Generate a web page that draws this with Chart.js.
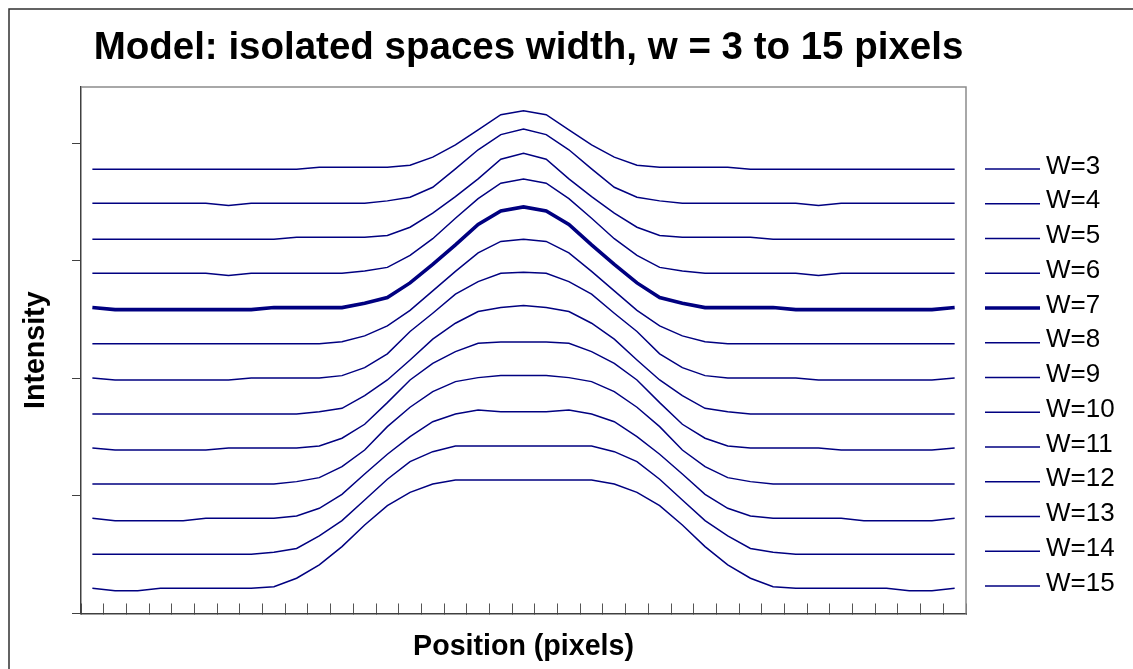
<!DOCTYPE html>
<html>
<head>
<meta charset="utf-8">
<script src="https://cdn.jsdelivr.net/npm/chart.js@4.4.0/dist/chart.umd.min.js"></script>
<style>
html,body{margin:0;padding:0;background:#fff;overflow:hidden;}
#wrap{width:1133px;height:669px;position:relative;}
canvas{display:block;}
</style>
</head>
<body>
<div id="wrap"><canvas id="c" width="1133" height="669"></canvas></div>
<script>
// ---- Data ----
const categories = ['1','2','3','4','5','6','7','8','9','10','11','12','13','14','15','16','17','18','19','20',
  '21','22','23','24','25','26','27','28','29','30','31','32','33','34','35','36','37','38','39'];

const seriesLabels = ['W=3','W=4','W=5','W=6','W=7','W=8','W=9','W=10','W=11','W=12','W=13','W=14','W=15'];

const w3 = [3.780,3.780,3.780,3.780,3.780,3.780,3.780,3.780,3.780,3.780,3.797,3.797,3.797,3.797,3.815,3.883,3.987,4.115,4.244,4.277,
  4.244,4.115,3.987,3.883,3.815,3.797,3.797,3.797,3.797,3.780,3.780,3.780,3.780,3.780,3.780,3.780,3.780,3.780,3.780];
const w4 = [3.491,3.491,3.491,3.491,3.491,3.491,3.471,3.491,3.491,3.491,3.491,3.491,3.491,3.511,3.542,3.627,3.783,3.946,4.075,4.122,
  4.075,3.946,3.783,3.627,3.542,3.511,3.491,3.491,3.491,3.491,3.491,3.491,3.471,3.491,3.491,3.491,3.491,3.491,3.491];
const w5 = [3.185,3.185,3.185,3.185,3.185,3.185,3.185,3.185,3.185,3.202,3.202,3.202,3.202,3.217,3.287,3.406,3.547,3.698,3.866,3.917,
  3.866,3.698,3.547,3.406,3.287,3.217,3.202,3.202,3.202,3.202,3.185,3.185,3.185,3.185,3.185,3.185,3.185,3.185,3.185];
const w6 = [2.895,2.895,2.895,2.895,2.895,2.895,2.875,2.895,2.895,2.895,2.895,2.895,2.915,2.945,3.047,3.189,3.363,3.530,3.661,3.696,
  3.661,3.530,3.363,3.189,3.047,2.945,2.915,2.895,2.895,2.895,2.895,2.895,2.875,2.895,2.895,2.895,2.895,2.895,2.895];
const w7 = [2.603,2.586,2.586,2.586,2.586,2.586,2.586,2.586,2.603,2.603,2.603,2.603,2.640,2.689,2.813,2.970,3.136,3.311,3.426,3.460,
  3.426,3.311,3.136,2.970,2.813,2.689,2.640,2.603,2.603,2.603,2.603,2.586,2.586,2.586,2.586,2.586,2.586,2.586,2.603];
const w8 = [2.296,2.296,2.296,2.296,2.296,2.296,2.296,2.296,2.296,2.296,2.296,2.313,2.362,2.447,2.579,2.745,2.911,3.068,3.166,3.185,
  3.166,3.068,2.911,2.745,2.579,2.447,2.362,2.313,2.296,2.296,2.296,2.296,2.296,2.296,2.296,2.296,2.296,2.296,2.296];
const w9 = [2.004,1.987,1.987,1.987,1.987,1.987,1.987,2.004,2.004,2.004,2.004,2.024,2.092,2.209,2.400,2.555,2.717,2.824,2.895,2.904,
  2.895,2.824,2.717,2.555,2.400,2.209,2.092,2.024,2.004,2.004,2.004,2.004,1.987,1.987,1.987,1.987,1.987,1.987,2.004];
const w10 = [1.698,1.698,1.698,1.698,1.698,1.698,1.698,1.698,1.698,1.698,1.717,1.746,1.854,1.987,2.157,2.334,2.470,2.569,2.604,2.620,
  2.604,2.569,2.470,2.334,2.157,1.987,1.854,1.746,1.717,1.698,1.698,1.698,1.698,1.698,1.698,1.698,1.698,1.698,1.698];
const w11 = [1.409,1.391,1.391,1.391,1.391,1.391,1.409,1.409,1.409,1.409,1.426,1.491,1.610,1.794,1.987,2.129,2.228,2.300,2.311,2.311,
  2.311,2.300,2.228,2.129,1.987,1.794,1.610,1.491,1.426,1.409,1.409,1.409,1.409,1.391,1.391,1.391,1.391,1.391,1.409];
const w12 = [1.102,1.102,1.102,1.102,1.102,1.102,1.102,1.102,1.102,1.122,1.156,1.249,1.391,1.590,1.755,1.888,1.973,2.007,2.024,2.024,
  2.024,2.007,1.973,1.888,1.755,1.590,1.391,1.249,1.156,1.122,1.102,1.102,1.102,1.102,1.102,1.102,1.102,1.102,1.102];
const w13 = [0.810,0.790,0.790,0.790,0.790,0.810,0.810,0.810,0.810,0.830,0.895,1.014,1.187,1.355,1.505,1.632,1.698,1.732,1.717,1.717,
  1.717,1.732,1.698,1.632,1.505,1.355,1.187,1.014,0.895,0.830,0.810,0.810,0.810,0.810,0.790,0.790,0.790,0.790,0.810];
const w14 = [0.504,0.504,0.504,0.504,0.504,0.504,0.504,0.504,0.521,0.553,0.660,0.790,0.966,1.142,1.292,1.377,1.426,1.426,1.426,1.426,
  1.426,1.426,1.426,1.377,1.292,1.142,0.966,0.790,0.660,0.553,0.521,0.504,0.504,0.504,0.504,0.504,0.504,0.504,0.504];
const w15 = [0.214,0.194,0.194,0.214,0.214,0.214,0.214,0.214,0.228,0.300,0.413,0.569,0.753,0.917,1.031,1.102,1.136,1.136,1.136,1.136,
  1.136,1.136,1.136,1.102,1.031,0.917,0.753,0.569,0.413,0.300,0.228,0.214,0.214,0.214,0.214,0.214,0.194,0.194,0.214];

const seriesValues = [w3, w4, w5, w6, w7, w8, w9, w10, w11, w12, w13, w14, w15];
const yTickValues = [0, 1, 2, 3, 4];

// ---- Styling ----
const FONT = "'Liberation Sans', Arial, Helvetica, sans-serif";
const NAVY = '#000080';
const highlighted = 'W=7';

const datasets = seriesLabels.map((lab, k) => ({
  label: lab,
  data: seriesValues[k],
  borderColor: NAVY,
  backgroundColor: NAVY,
  borderWidth: lab === highlighted ? 3.6 : 1.5,
  pointRadius: 0,
  pointHoverRadius: 0,
  tension: 0,
  fill: false
}));

const decor = {
  id: 'decor',
  afterLayout(chart) {
    const t = chart.titleBlock;
    if (t) { t.left += 5; t.right += 5; }
  },
  beforeDraw(chart) {
    const c = chart.ctx;
    c.save();
    c.fillStyle = '#ffffff';
    c.fillRect(0, 0, chart.width, chart.height);
    c.restore();
  },
  afterDraw(chart) {
    const c = chart.ctx;
    const a = chart.chartArea;
    c.save();
    // plot area border (top and right)
    c.strokeStyle = '#8c8c8c';
    c.lineWidth = 1.5;
    c.beginPath();
    c.moveTo(a.left, a.top);
    c.lineTo(a.right, a.top);
    c.lineTo(a.right, a.bottom);
    c.stroke();
    // outer chart frame
    c.strokeStyle = '#303030';
    c.lineWidth = 1.5;
    c.beginPath();
    c.moveTo(9, chart.height + 2);
    c.lineTo(9, 9);
    c.lineTo(chart.width + 2, 9);
    c.stroke();
    // legend
    const x0 = 985, x1 = 1040, tx = 1046, y0 = 169, dy = 34.75;
    c.font = '26px ' + FONT;
    c.textBaseline = 'middle';
    c.textAlign = 'left';
    chart.data.datasets.forEach((ds, k) => {
      const y = y0 + dy * k;
      c.strokeStyle = ds.borderColor;
      c.lineWidth = ds.borderWidth;
      c.beginPath();
      c.moveTo(x0, y);
      c.lineTo(x1, y);
      c.stroke();
      c.fillStyle = '#000';
      c.fillText(ds.label, tx, y - 2.5);
    });
    c.restore();
  }
};

new Chart(document.getElementById('c'), {
  type: 'line',
  data: { labels: categories, datasets },
  options: {
    responsive: false,
    devicePixelRatio: 1,
    animation: false,
    events: [],
    layout: { padding: { left: 0, top: 10, right: 167, bottom: 0 } },
    plugins: {
      legend: { display: false },
      tooltip: { enabled: false },
      title: {
        display: true,
        text: 'Model: isolated spaces width, w = 3 to 15 pixels',
        color: '#000',
        fullSize: false,
        font: { family: FONT, size: 38.5, weight: 'bold', lineHeight: 1.2 },
        padding: { top: 15.6, bottom: 15.2 }
      }
    },
    scales: {
      x: {
        type: 'category',
        offset: true,
        grid: {
          display: true, drawOnChartArea: false, drawTicks: true,
          tickLength: -10, offset: true, color: '#555', lineWidth: 1
        },
        border: { display: true, color: '#404040', width: 1.5 },
        ticks: { display: false },
        title: {
          display: true, text: 'Position (pixels)', color: '#000',
          font: { family: FONT, size: 28.6, weight: 'bold', lineHeight: 1.2 },
          padding: { top: 26.4, bottom: 4.8 }
        }
      },
      y: {
        type: 'linear',
        min: 0,
        max: 4.48,
        afterBuildTicks(scale) { scale.ticks = yTickValues.map(v => ({ value: v })); },
        grid: {
          display: true, drawOnChartArea: false, drawTicks: true,
          tickLength: 9, color: '#404040', lineWidth: 1
        },
        border: { display: true, color: '#404040', width: 1.5 },
        ticks: { display: false, stepSize: 1, includeBounds: false },
        title: {
          display: true, text: 'Intensity', color: '#000',
          font: { family: FONT, size: 28.6, weight: 'bold', lineHeight: 1.2 },
          padding: { top: 19.3, bottom: 18.4 }
        }
      }
    }
  },
  plugins: [decor]
});
</script>
</body>
</html>
